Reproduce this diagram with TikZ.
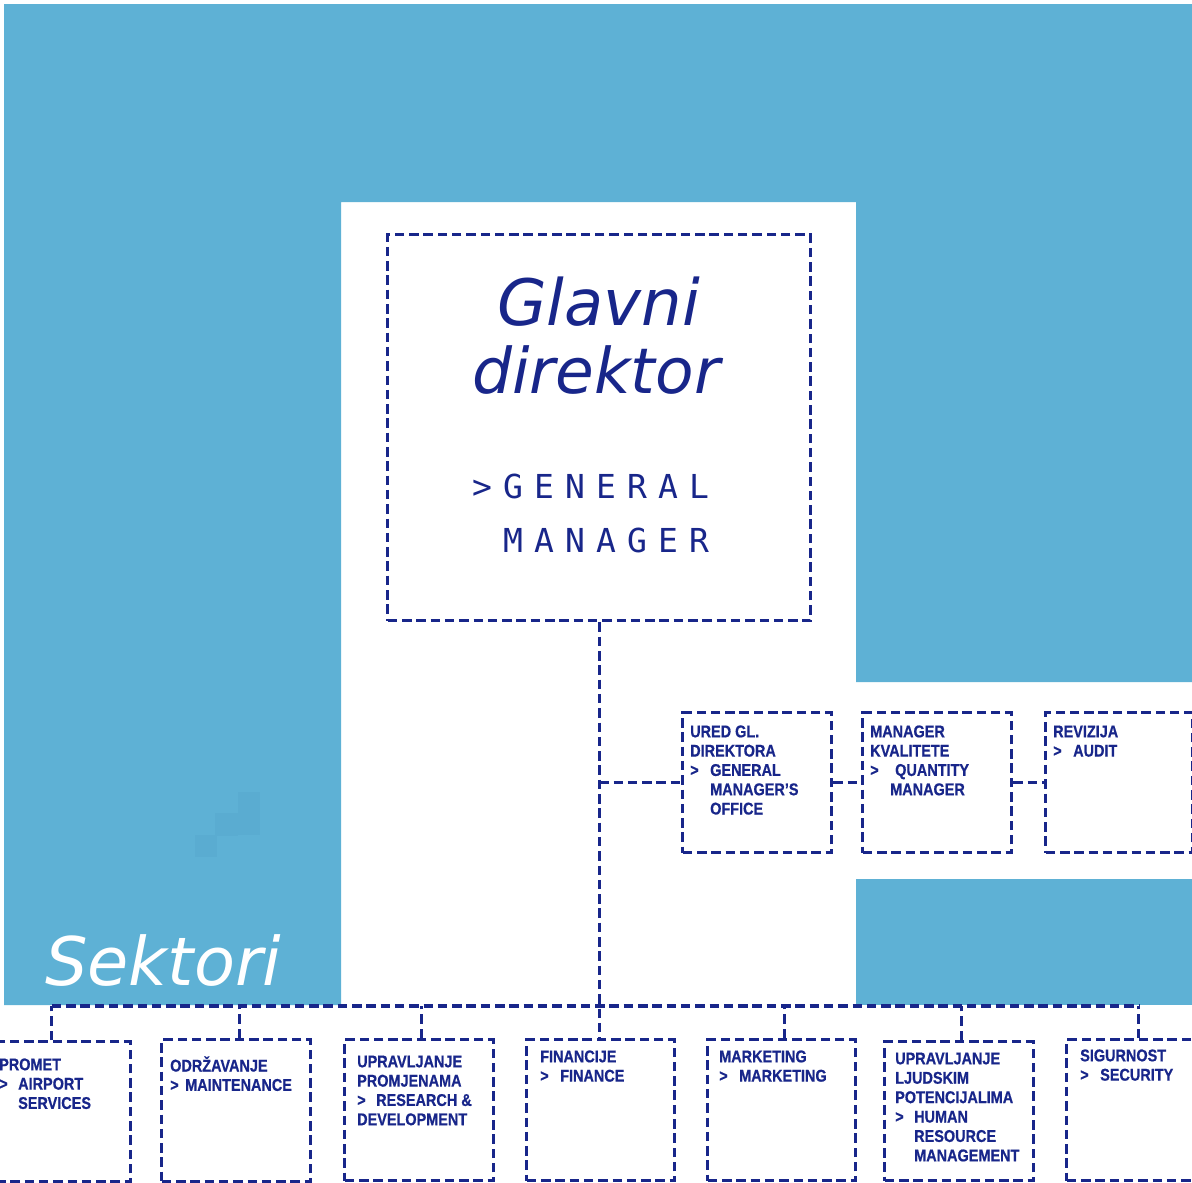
\documentclass[tikz,border=0pt]{standalone}
\usepackage{fontspec}
\setmainfont{Liberation Sans}
\newfontfamily\boxfont[FakeStretch=0.85,FakeBold=0.6]{Liberation Sans Bold}
\newfontfamily\handfont{DejaVu Sans}
\newfontfamily\gmfont[LetterSpace=33.7]{DejaVu Sans Mono}
\definecolor{navy}{RGB}{24,38,138}
\definecolor{sky}{RGB}{94,177,213}
\definecolor{skyd}{RGB}{90,172,209}
\newcommand\gt[1]{\makebox[#1pt][l]{>}}
\begin{document}
\begin{tikzpicture}[x=1pt,y=-1pt,
  dashline/.style={draw=navy, line width=3.4pt, dash pattern=on 9.5pt off 4.8pt},
  dbox/.style={dashline, rectangle, inner sep=0pt, anchor=north west},
  btxt/.style={text=navy, font=\boxfont\fontsize{17}{19.3}\selectfont, align=left, inner sep=0pt, anchor=north west},
  hand/.style={text=navy, inner sep=0pt, anchor=base west},
  gmt/.style={text=navy, inner sep=0pt, anchor=base west, font=\gmfont\fontsize{33}{40}\selectfont}]
\useasboundingbox (0,0) rectangle (1192,1183);
\fill[white] (0,0) rectangle (1192,1183);
% background
\fill[sky] (4,4) -- (1192,4) -- (1192,682) -- (856,682) -- (856,202) -- (341,202) -- (341,1005) -- (4,1005) -- cycle;
\fill[sky] (856,879) rectangle (1192,1005);
\fill[skyd] (238,792) rectangle (260,835);
\fill[skyd] (215,813) rectangle (238,836);
\fill[skyd] (195,835) rectangle (217,857);

% general manager
\node[dbox, minimum width=423pt, minimum height=386pt] (gm) at (386,233) {};
\node[hand, font=\handfont\itshape\fontsize{64}{70}\selectfont] (gl) at (497,325) {Glavni};
\node[hand, font=\handfont\itshape\fontsize{63}{70}\selectfont] (dir) at (472,393) {direktor};
\node[gmt] (gen) at (472,498) {>GENERAL};
\node[gmt] (man) at (503,552) {MANAGER};

% staff boxes
\node[dbox, minimum width=149pt, minimum height=140pt] (ured) at (681,711) {};
\node[dbox, minimum width=149pt, minimum height=140pt] (mk) at (861,711) {};
\node[dbox, minimum width=147pt, minimum height=140pt] (rev) at (1044,711) {};
\node[btxt] (uredT) at (690,723.1) {\rule{0pt}{14pt}URED GL.\\DIREKTORA\\\gt{20}GENERAL\\\hspace*{20pt}MANAGER’S\\\hspace*{20pt}OFFICE};
\node[btxt] (mkT) at (870,723.1) {\rule{0pt}{14pt}MANAGER\\KVALITETE\\\gt{25}QUANTITY\\\hspace*{20pt}MANAGER};
\node[btxt] (revT) at (1053,723.1) {\rule{0pt}{14pt}REVIZIJA\\\gt{20}AUDIT};

% sectors
\node[dbox, minimum width=149pt, minimum height=140pt] (pa) at (-20,1040) {};
\node[dbox, minimum width=149pt, minimum height=142pt] (pb) at (160,1038) {};
\node[dbox, minimum width=149pt, minimum height=141pt] (pc) at (343,1038) {};
\node[dbox, minimum width=148pt, minimum height=141pt] (pd) at (525,1038) {};
\node[dbox, minimum width=148pt, minimum height=141pt] (pe) at (706,1038) {};
\node[dbox, minimum width=149pt, minimum height=139pt] (pf) at (883,1040) {};
\node[dbox, minimum width=149pt, minimum height=141pt] (pg) at (1065,1038) {};

\node[btxt] (paT) at (-1,1056.1) {\rule{0pt}{14pt}PROMET\\\gt{19}AIRPORT\\\hspace*{19pt}SERVICES};
\node[btxt] (pbT) at (170,1056.1) {\rule{0pt}{14pt}ODRŽAVANJE\\\gt{15}MAINTENANCE};
\node[btxt] (pcT) at (357,1053.1) {\rule{0pt}{14pt}UPRAVLJANJE\\PROMJENAMA\\\gt{19}RESEARCH \&\\DEVELOPMENT};
\node[btxt] (pdT) at (540,1048.1) {\rule{0pt}{14pt}FINANCIJE\\\gt{20}FINANCE};
\node[btxt] (peT) at (719,1048.1) {\rule{0pt}{14pt}MARKETING\\\gt{20}MARKETING};
\node[btxt, font=\boxfont\fontsize{17}{19.4}\selectfont] (pfT) at (895,1050.1) {\rule{0pt}{14pt}UPRAVLJANJE\\LJUDSKIM\\POTENCIJALIMA\\\gt{19}HUMAN\\\hspace*{19pt}RESOURCE\\\hspace*{19pt}MANAGEMENT};
\node[btxt] (pgT) at (1080,1047.1) {\rule{0pt}{14pt}SIGURNOST\\\gt{20}SECURITY};

\node[hand, text=white, font=\handfont\itshape\fontsize{67}{70}\selectfont] (sek) at (45,985) {Sektori};

% connectors
\coordinate (bus) at (0,1006);
\draw[dashline] (gm.south) -- (gm.south |- pd.north);
\draw[dashline] (gm.south |- ured.west) -- (ured.west);
\draw[dashline] (ured.east) -- (mk.west);
\draw[dashline] (mk.east) -- (rev.west);
\draw[dashline] ([xshift=-4.5pt]pa.north |- bus) -- ([xshift=-2.5pt]pg.north |- bus);
\draw[dashline] ([xshift=-4.5pt]pa.north) -- ([xshift=-4.5pt]pa.north |- bus);
\draw[dashline] ([xshift=3.5pt]pb.north) -- ([xshift=3.5pt]pb.north |- bus);
\draw[dashline] ([xshift=2.5pt]pc.north) -- ([xshift=2.5pt]pc.north |- bus);
\draw[dashline] ([xshift=3pt]pe.north) -- ([xshift=3pt]pe.north |- bus);
\draw[dashline] ([xshift=2.5pt]pf.north) -- ([xshift=2.5pt]pf.north |- bus);
\draw[dashline] ([xshift=-2.5pt]pg.north) -- ([xshift=-2.5pt]pg.north |- bus);
\end{tikzpicture}
\end{document}
